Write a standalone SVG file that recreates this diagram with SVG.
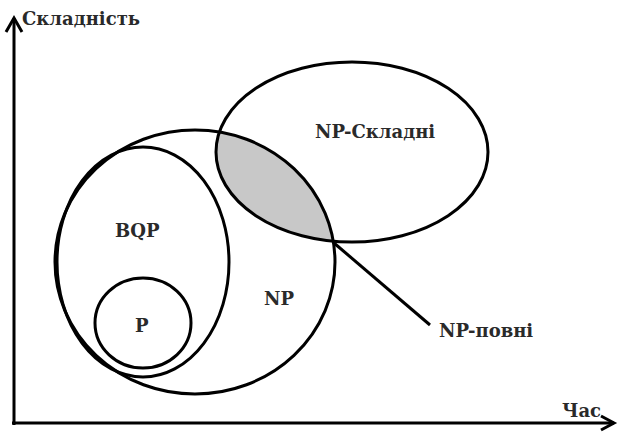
<svg xmlns="http://www.w3.org/2000/svg" width="619" height="433" viewBox="0 0 619 433">
<style>
.s{fill:none;stroke:#000;stroke-width:3}
.t{font-family:"DejaVu Serif","Liberation Serif",serif;font-weight:bold;font-size:18px;fill:#2a2a2a}
</style>
<defs>
<clipPath id="clipHard"><ellipse cx="352" cy="152" rx="136" ry="90"/></clipPath>
</defs>
<g id="axes">
<line class="s" x1="14" y1="425" x2="14" y2="18"/>
<polyline class="s" points="6,32 14,18 22,32"/>
<line class="s" x1="12" y1="423" x2="614" y2="423"/>
<polyline class="s" points="601,416 614,423 601,430"/>
<text class="t" x="22" y="25">Складність</text>
<text class="t" x="562" y="417">Час</text>
</g>
<g id="lens">
<ellipse cx="195" cy="262" rx="140" ry="132" fill="#c8c8c8" clip-path="url(#clipHard)"/>
</g>
<g id="np">
<ellipse class="s" cx="195" cy="262" rx="140" ry="132"/>
<text class="t" x="264" y="305">NP</text>
</g>
<g id="bqp">
<ellipse class="s" cx="143" cy="262" rx="86" ry="115"/>
<text class="t" x="115" y="237">BQP</text>
</g>
<g id="p">
<ellipse class="s" cx="143" cy="323" rx="48" ry="45"/>
<text class="t" x="135" y="332">P</text>
</g>
<g id="np-hard">
<ellipse class="s" cx="352" cy="152" rx="136" ry="90"/>
<text class="t" x="315" y="138">NP-Складні</text>
</g>
<g id="connectors">
<line class="s" x1="334" y1="243" x2="430" y2="325"/>
</g>
<g id="np-complete">
<text class="t" x="439" y="337">NP-повні</text>
</g>
</svg>
